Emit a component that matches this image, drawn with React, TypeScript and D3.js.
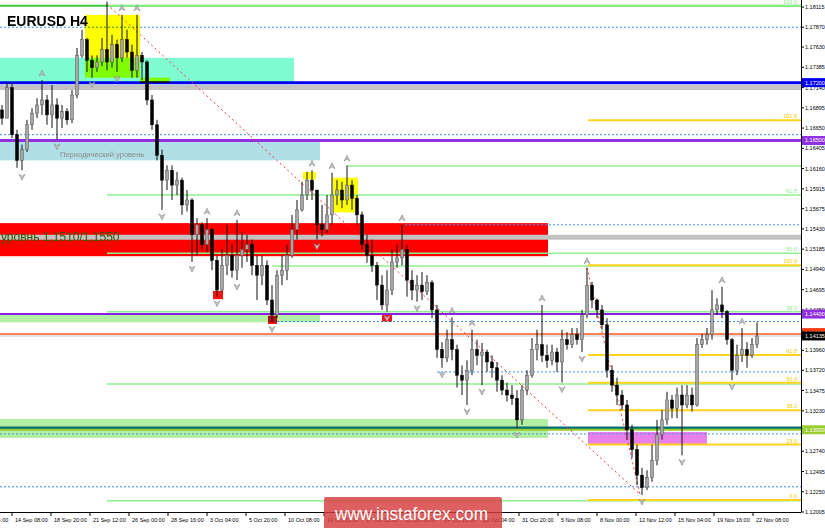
import React from 'react';
import * as d3 from 'd3';

// ---------- data ----------
const firstOpen = 1.1687;
const closes = [1.1677,1.1714,1.1657,1.1626,1.1639,1.1669,1.1683,1.1693,1.1699,1.1681,
1.1693,1.1677,1.1685,1.1675,1.1705,1.1753,1.1772,1.1747,1.1738,1.1745,
1.1760,1.1745,1.1766,1.1750,1.1772,1.1757,1.1735,1.1753,1.1745,1.1699,
1.1669,1.1632,1.1602,1.1614,1.1596,1.1602,1.1572,1.1578,1.1536,1.1548,
1.1524,1.1542,1.1505,1.1469,1.1499,1.1511,1.1493,1.1511,1.1518,1.1524,
1.1499,1.1487,1.1499,1.1457,1.1439,1.1487,1.1493,1.1511,1.1542,1.1566,
1.1584,1.1602,1.1590,1.1548,1.1542,1.1560,1.1584,1.1590,1.1578,1.1596,
1.1580,1.1560,1.1524,1.1511,1.1499,1.1475,1.1451,1.1469,1.1503,1.1508,
1.1518,1.1481,1.1469,1.1475,1.1467,1.1478,1.1445,1.1397,1.1387,1.1409,
1.1397,1.1366,1.1360,1.1372,1.1397,1.1390,1.1394,1.1382,1.1375,1.1360,
1.1348,1.1342,1.1338,1.1312,1.1348,1.1366,1.1397,1.1403,1.1390,1.1384,
1.1394,1.1382,1.1409,1.1403,1.1415,1.1409,1.1439,1.1475,1.1457,1.1445,
1.1427,1.1372,1.1354,1.1342,1.1330,1.1300,1.1276,1.1245,1.1230,1.1242,
1.1263,1.1294,1.1312,1.1336,1.1326,1.1342,1.1330,1.1342,1.1330,1.1403,
1.1409,1.1415,1.1445,1.1451,1.1443,1.1409,1.1372,1.1390,1.1397,1.1390,
1.1403,1.14135];
const highs = [1.1693,1.1720,1.1720,1.1663,1.1645,1.1675,1.1689,1.1701,1.1723,1.1705,
1.1717,1.1701,1.1693,1.1689,1.1711,1.1762,1.1784,1.1774,1.1753,1.1753,
1.1774,1.1818,1.1778,1.1772,1.1802,1.1784,1.1766,1.1802,1.1757,1.1747,
1.1705,1.1675,1.1639,1.1620,1.1620,1.1612,1.1605,1.1590,1.1580,1.1556,
1.1551,1.1556,1.1544,1.1511,1.1518,1.1548,1.1524,1.1554,1.1539,1.1536,
1.1530,1.1511,1.1511,1.1505,1.1475,1.1493,1.1511,1.1524,1.1560,1.1578,
1.1600,1.1612,1.1614,1.1590,1.1572,1.1584,1.1611,1.1602,1.1600,1.1620,
1.1602,1.1584,1.1564,1.1536,1.1530,1.1503,1.1487,1.1493,1.1518,1.1524,
1.1548,1.1524,1.1493,1.1487,1.1491,1.1487,1.1481,1.1451,1.1406,1.1421,
1.1436,1.1403,1.1378,1.1384,1.1421,1.1409,1.1405,1.1397,1.1390,1.1382,
1.1366,1.1357,1.1354,1.1348,1.1354,1.1372,1.1411,1.1421,1.1451,1.1403,
1.1403,1.1399,1.1421,1.1418,1.1423,1.1423,1.1445,1.1496,1.1479,1.1459,
1.1451,1.1435,1.1378,1.1363,1.1348,1.1336,1.1306,1.1282,1.1254,1.1251,
1.1282,1.1312,1.1324,1.1346,1.1342,1.1351,1.1354,1.1354,1.1351,1.1411,
1.1416,1.1423,1.1469,1.1459,1.1473,1.1445,1.1411,1.1403,1.1423,1.1406,
1.1411,1.1430];
const lows = [1.1669,1.1677,1.1653,1.1617,1.1614,1.1636,1.1663,1.1677,1.1681,1.1669,
1.1665,1.1651,1.1665,1.1669,1.1671,1.1701,1.1750,1.1733,1.1726,1.1733,
1.1740,1.1735,1.1738,1.1733,1.1745,1.1750,1.1726,1.1726,1.1723,1.1693,
1.1663,1.1626,1.1566,1.1590,1.1578,1.1584,1.1560,1.1564,1.1503,1.1511,
1.1518,1.1515,1.1493,1.1461,1.1467,1.1487,1.1484,1.1481,1.1496,1.1503,
1.1487,1.1457,1.1475,1.1451,1.1430,1.1435,1.1475,1.1481,1.1508,1.1530,
1.1564,1.1578,1.1578,1.1530,1.1534,1.1538,1.1548,1.1572,1.1568,1.1572,
1.1566,1.1548,1.1518,1.1502,1.1491,1.1457,1.1445,1.1443,1.1463,1.1496,
1.1499,1.1461,1.1457,1.1455,1.1457,1.1463,1.1435,1.1387,1.1375,1.1382,
1.1384,1.1351,1.1342,1.1330,1.1366,1.1378,1.1354,1.1370,1.1363,1.1346,
1.1342,1.1334,1.1330,1.1302,1.1306,1.1342,1.1363,1.1384,1.1382,1.1375,
1.1378,1.1370,1.1357,1.1397,1.1399,1.1403,1.1394,1.1435,1.1447,1.1435,
1.1421,1.1363,1.1346,1.1330,1.1324,1.1288,1.1266,1.1233,1.1221,1.1227,
1.1237,1.1257,1.1288,1.1306,1.1314,1.1314,1.1269,1.1326,1.1322,1.1328,
1.1399,1.1403,1.1409,1.1439,1.1435,1.1403,1.1360,1.1366,1.1382,1.1375,
1.1387,1.1399];

const yTickValues = [1.18115,1.17870,1.17630,1.17385,1.17140,1.16895,1.16650,1.16405,1.16160,1.15915,
1.15675,1.15430,1.15185,1.14940,1.14695,1.14450,1.14205,1.13960,1.13720,1.13475,1.13230,1.12985,
1.12740,1.12495,1.12250,1.12005];

const xTickIdx = [-5.8,2,9.8,17.6,25.4,33.2,41,48.8,56.6,64.4,72.2,80,87.8,95.6,103.4,111.2,119,126.8,134.6,142.4,150.2];
const xTickLabels = ["11 Sep 16:00","14 Sep 08:00","18 Sep 20:00","21 Sep 12:00","26 Sep 00:00","28 Sep 16:00",
"3 Oct 04:00","5 Oct 20:00","10 Oct 08:00","14 Oct 20:00","17 Oct 12:00","22 Oct 00:00","24 Oct 16:00",
"29 Oct 04:00","31 Oct 20:00","5 Nov 08:00","8 Nov 00:00","12 Nov 12:00","15 Nov 04:00","19 Nov 16:00","22 Nov 08:00"];

// zones: [fromIdx, toIdx, priceA, priceB, kind]
const zones: [number, number, number, number, string][] = [
  [-0.4, 58.4, 1.1750, 1.1720, 'aqua'],
  [-0.4, 63.6, 1.1650, 1.1626, 'powder'],
  [-0.4, 109.2, 1.1550, 1.1510, 'red'],
  [-0.4, 63.6, 1.1440, 1.1430, 'lightgreen'],
  [-0.4, 109.2, 1.1313, 1.1290, 'lightgreen'],
  [117.2, 141, 1.12973, 1.12815, 'pink'],
];
const boxes: [number, number, number, number, string][] = [
  [16.6, 27.6, 1.1802, 1.1726, 'yellow'],
  [27.6, 33.6, 1.1726, 1.1720, 'yellow'],
  [60.2, 62.8, 1.1612, 1.1603, 'yellow'],
  [66.2, 71.2, 1.1605, 1.1563, 'yellow'],
  [42.2, 44.2, 1.1468, 1.1458, 'redsq'],
  [53.2, 55.0, 1.1438, 1.1428, 'redsq'],
  [76.0, 78.0, 1.1439, 1.1431, 'redsq'],
];
// horizontal levels: [price, fromIdx (null = left edge), kind]
const levels: [number, number | null, string][] = [
  [1.1813, null, 'greenTop'],
  [1.1787, null, 'dot'],
  [1.17141, null, 'grayBand'],
  [1.1720, null, 'blue'],
  [1.1657, null, 'dot'],
  [1.1650, null, 'purple'],
  [1.1619, 69.2, 'green'],
  [1.1548, 80.6, 'dot'],
  [1.1533, null, 'grayBand'],
  [1.1498, 54, 'green'],
  [1.1440, null, 'purpleThin'],
  [1.1431, 55, 'dot'],
  [1.1416, null, 'orange'],
  [1.14135, null, 'current'],
  [1.1370, 87, 'dot'],
  [1.1302, null, 'teal'],
  [1.1300, null, 'yellowgreen'],
  [1.1295, null, 'dot'],
  [1.1231, null, 'dot'],
];
const greenFibFrom = 21, greenFibLow = 1.1214, greenFibHigh = 1.1813;
const greenFibRatios = [0, 0.236, 0.382, 0.5, 0.618, 1];
const greenFibLabels = ['', '', '38.2', '50.0', '61.8', '100.0'];
const yellowFibFrom = 117.2, yellowFibLow = 1.1215, yellowFibHigh = 1.1499;
const yellowFibRatios = [0, 0.236, 0.382, 0.5, 0.618, 1, 1.618];
const yellowFibLabels = ['0.0', '23.6', '38.2', '50.0', '61.8', '100.0', '161.8'];
// trend lines [idxA, priceA, idxB, priceB]
const trends: [number, number, number, number][] = [
  [21, 1.1815, 127.6, 1.1222],
  [117, 1.1496, 127.6, 1.1222],
];
// axis price flags [price, text, kind]
const flags: [number, string, string][] = [
  [1.1720, '1.17200', 'blue'],
  [1.1650, '1.16500', 'purple'],
  [1.1440, '1.14400', 'purple'],
  [1.14175, '1.14160', 'orange'],
  [1.14135, '1.14135', 'black'],
  [1.1300, '1.13000', 'yellowgreen'],
];

// ---------- styles ----------
const zoneColor: Record<string, string> = {
  aqua: '#7ffcd2', powder: '#b0dfe6', red: '#ff0000', lightgreen: '#b3efa3', pink: '#ea7fea',
  yellow: '#ffff00', redsq: '#ff1010',
};
const levelStyle: Record<string, { c: string; w: number; dash?: string }> = {
  greenTop: { c: '#3cc83c', w: 2 },
  dot: { c: '#3d8ff0', w: 1, dash: '2,2' },
  grayBand: { c: '#c3c3c3', w: 5 },
  blue: { c: '#0000f0', w: 3 },
  purple: { c: '#9030e0', w: 3 },
  purpleThin: { c: '#8a20e8', w: 2 },
  green: { c: '#8ef08e', w: 1.5 },
  orange: { c: '#ff5a1e', w: 1.5 },
  current: { c: '#c8c8c8', w: 1 },
  teal: { c: '#006e72', w: 3 },
  yellowgreen: { c: '#9acd32', w: 2 },
};
const flagColor: Record<string, string> = {
  blue: '#0000f0', purple: '#9030e0', orange: '#ff3a10', black: '#000', yellowgreen: '#9acd32',
};

const FONT = "'Liberation Sans', Arial, sans-serif";

export default function App() {
  const W = 825, H = 528, R = 801, B = 512;
  const x = d3.scaleLinear().domain([0, 151]).range([2, 757]);
  const y = d3.scaleLinear().domain([1.12005, 1.18115]).range([512, 7]);
  const opens = closes.map((_, i) => (i === 0 ? firstOpen : closes[i - 1]));
  const n = closes.length;

  const upFr: number[] = [];
  const dnFr: number[] = [];
  for (let i = 2; i < n - 2; i++) {
    if (highs[i] > highs[i - 1] && highs[i] >= highs[i - 2] && highs[i] > highs[i + 1] && highs[i] > highs[i + 2]) upFr.push(i);
    if (lows[i] < lows[i - 1] && lows[i] <= lows[i - 2] && lows[i] < lows[i + 1] && lows[i] < lows[i + 2]) dnFr.push(i);
  }

  const xs = (v: number | null) => (v === null ? 0 : x(v));

  return (
    <svg width={W} height={H} style={{ position: 'absolute', left: 0, top: 0 }} fontFamily={FONT}>
      <defs>
        <clipPath id="plot"><rect x={0} y={0} width={R} height={B} /></clipPath>
      </defs>
      <rect width={W} height={H} fill="#fff" />
      <g clipPath="url(#plot)">
        {zones.map((z, i) => (
          <rect key={'z' + i} x={xs(z[0])} width={x(z[1]) - xs(z[0])} y={y(z[2])} height={y(z[3]) - y(z[2])} fill={zoneColor[z[4]]} />
        ))}
        {levels.map((l, i) => {
          const s = levelStyle[l[2]];
          return <line key={'l' + i} x1={xs(l[1])} x2={R} y1={y(l[0])} y2={y(l[0])} stroke={s.c} strokeWidth={s.w} strokeDasharray={s.dash} />;
        })}
        {boxes.map((b, i) => (
          <rect key={'b' + i} x={x(b[0])} width={x(b[1]) - x(b[0])} y={y(b[2])} height={y(b[3]) - y(b[2])} fill={zoneColor[b[4]]} style={{ mixBlendMode: 'multiply' }} />
        ))}
        <text x={1} y={241} fontSize={12} fill="#2a5c00" fontFamily={FONT}>уровнь 1,1510/1,1550</text>
        <text x={60} y={157} fontSize={7.5} fill="#8c8c8c" fontFamily={FONT}>Периодический уровень</text>
        {greenFibRatios.map((r, i) => {
          const p = greenFibLow + r * (greenFibHigh - greenFibLow);
          return (
            <g key={'gf' + i}>
              <line x1={x(greenFibFrom)} x2={R} y1={y(p)} y2={y(p)} stroke="#8ef08e" strokeWidth={1.5} />
              {greenFibLabels[i] && <text x={797} y={y(p) - 2} fontSize={5.5} fill="#8ee88e" textAnchor="end">{greenFibLabels[i]}</text>}
            </g>
          );
        })}
        {yellowFibRatios.map((r, i) => {
          const p = yellowFibLow + r * (yellowFibHigh - yellowFibLow);
          return (
            <g key={'yf' + i}>
              <line x1={x(yellowFibFrom)} x2={R} y1={y(p)} y2={y(p)} stroke="#ffd21f" strokeWidth={2} />
              <text x={797} y={y(p) - 2} fontSize={5.5} fill="#f5c800" textAnchor="end">{yellowFibLabels[i]}</text>
            </g>
          );
        })}
        {trends.map((t, i) => (
          <line key={'t' + i} x1={x(t[0])} y1={y(t[1])} x2={x(t[2])} y2={y(t[3])} stroke="#ff3030" strokeWidth={1} strokeDasharray="2,3" />
        ))}
        {closes.map((c, i) => {
          const o = opens[i];
          const bull = c >= o;
          const cx = x(i);
          const top = y(Math.max(o, c));
          const bot = y(Math.min(o, c));
          return (
            <g key={'c' + i}>
              <line x1={cx} x2={cx} y1={y(Math.max(highs[i], o, c))} y2={y(Math.min(lows[i], o, c))} stroke="#111" strokeWidth={1} />
              <rect x={cx - 1.5} width={3} y={top} height={Math.max(1, bot - top)} fill={bull ? '#a6a6a6' : '#000'} stroke={bull ? '#555' : '#000'} strokeWidth={0.5} />
            </g>
          );
        })}
        {upFr.map((i) => {
          const cx = x(i), t = y(highs[i]) - 10;
          return <path key={'u' + i} d={`M${cx - 3},${t + 6}L${cx},${t}L${cx + 3},${t + 6}L${cx},${t + 4}Z`} fill="#c4c4c4" stroke="#8a8a8a" strokeWidth={0.6} />;
        })}
        {dnFr.map((i) => {
          const cx = x(i), t = y(lows[i]) + 10;
          return <path key={'d' + i} d={`M${cx - 3},${t - 6}L${cx},${t}L${cx + 3},${t - 6}L${cx},${t - 4}Z`} fill="#c4c4c4" stroke="#8a8a8a" strokeWidth={0.6} />;
        })}
        <text x={7} y={26} fontSize={14} fontWeight="bold" fill="#000" fontFamily={FONT}>EURUSD H4</text>
      </g>

      {/* axes */}
      <line x1={R + 0.5} x2={R + 0.5} y1={0} y2={B} stroke="#000" />
      <line x1={0} x2={R} y1={B + 0.5} y2={B + 0.5} stroke="#000" />
      {yTickValues.map((v, i) => (
        <g key={'yt' + i}>
          <line x1={R} x2={R + 3} y1={y(v)} y2={y(v)} stroke="#000" />
          <text x={805} y={y(v) + 2} fontSize={5.5} fill="#000">{v.toFixed(5)}</text>
        </g>
      ))}
      {flags.map((f, i) => (
        <g key={'f' + i}>
          <rect x={802} y={y(f[0]) - 4.5} width={23} height={9} fill={flagColor[f[2]]} />
          <text x={805} y={y(f[0]) + 2} fontSize={5.5} fill="#fff">{f[1]}</text>
        </g>
      ))}
      {xTickIdx.map((v, i) => (
        <g key={'xt' + i}>
          <line x1={x(v)} x2={x(v)} y1={B} y2={B + 4} stroke="#000" />
          <text x={x(v) + 3} y={522} fontSize={5.5} fill="#000">{xTickLabels[i]}</text>
        </g>
      ))}

      {/* watermark */}
      <rect x={324} y={497} width={178} height={34} rx={2} fill="#d63c3c" opacity={0.82} />
      <text x={335} y={520} fontSize={19} fill="#fff" textLength={153} lengthAdjust="spacingAndGlyphs" fontFamily={FONT}>www.instaforex.com</text>
    </svg>
  );
}
